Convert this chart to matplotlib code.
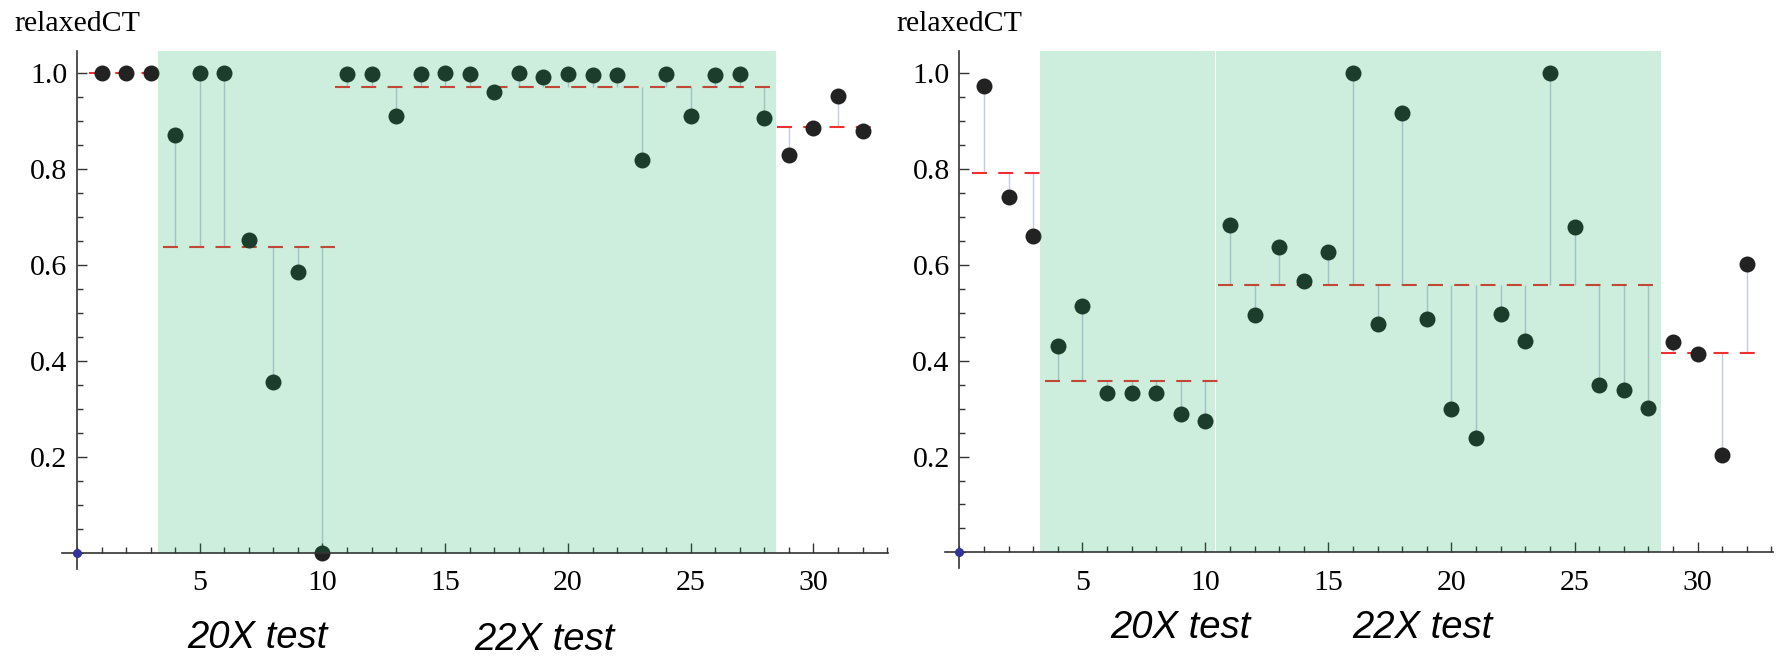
import numpy as np
import matplotlib
matplotlib.use('Agg')
import matplotlib.pyplot as plt
from matplotlib.patches import Rectangle
from matplotlib.ticker import MultipleLocator
from matplotlib.transforms import offset_copy

plt.rcParams['lines.scale_dashes'] = False
plt.rcParams['font.family'] = ['Liberation Serif', 'DejaVu Serif']

# run index 1..32
runs = list(range(1, 33))

# relaxedCT, left panel
left_ct = [1.000, 0.999, 1.000, 0.871, 1.000, 1.000, 0.653, 0.356, 0.586, 0.000,
           0.998, 0.998, 0.910, 0.998, 0.999, 0.998, 0.960, 1.000, 0.992, 0.997,
           0.996, 0.995, 0.819, 0.998, 0.910, 0.996, 0.998, 0.906,
           0.829, 0.886, 0.952, 0.879]

# relaxedCT, right panel
right_ct = [0.973, 0.740, 0.659, 0.430, 0.514, 0.332, 0.332, 0.332, 0.288, 0.275,
            0.683, 0.495, 0.636, 0.566, 0.626, 1.000, 0.477, 0.916, 0.487, 0.300,
            0.238, 0.496, 0.441, 1.000, 0.678, 0.350, 0.339, 0.302,
            0.439, 0.414, 0.204, 0.602]

# groups of runs (first, last) that share a mean line
groups = [(1, 3), (4, 10), (11, 28), (29, 32)]

# shaded test ranges on the x axis
left_shade = [(3.3, 28.47)]
right_shade = [(3.29, 10.37), (10.43, 28.51)]

x_ticks = [5, 10, 15, 20, 25, 30]
x_tick_labels = ['5', '10', '15', '20', '25', '30']
y_ticks = [0.2, 0.4, 0.6, 0.8, 1.0]
y_tick_labels = ['0.2', '0.4', '0.6', '0.8', '1.0']

YLO, YHI = -0.033, 1.045
W, H = 1777, 656
TICK_FS = 21.5

fig = plt.figure(figsize=(17.77, 6.56), dpi=100)
ax1 = fig.add_axes([62.3 / W, 87.2 / H, 826 / W, 517.4 / H])
ax2 = fig.add_axes([944.6 / W, 87.7 / H, 828 / W, 517.2 / H])


def draw_panel(ax, values, shade):
    values = np.array(values)
    x = np.array(runs)
    for first, last in groups:
        sel = (x >= first) & (x <= last)
        m = values[sel].mean()
        ax.vlines(x[sel], m, values[sel], color='#c5c9e6', lw=1.0, zorder=1)
        ax.plot([first - 0.5, last + 0.5], [m, m], color='#f03030', lw=1.5,
                dashes=(10.8, 8.1), zorder=2)
    ax.plot(x, values, 'o', color='#222222', ms=11.5, mew=0, zorder=3)
    for a, b in shade:
        ax.add_patch(Rectangle((a, 0), b - a, YHI, facecolor='#05aa50',
                               alpha=0.2, lw=0, zorder=4))
    ax.plot([0], [0], 'o', color='#333399', ms=6.5, mew=0, zorder=7, clip_on=False)

    ax.set_xlim(-0.6, 33.05)
    ax.set_ylim(YLO, YHI)
    for s in ['top', 'right']:
        ax.spines[s].set_visible(False)
    for s in ['left', 'bottom']:
        ax.spines[s].set_position(('data', 0))
        ax.spines[s].set_color('#333333')
        ax.spines[s].set_linewidth(1.2)
        ax.spines[s].set_zorder(6)
    ax.set_xticks(x_ticks)
    ax.set_yticks(y_ticks)
    ax.xaxis.set_minor_locator(MultipleLocator(1))
    ax.yaxis.set_minor_locator(MultipleLocator(0.05))
    ax.tick_params(which='both', direction='in', color='#333333', width=1.0,
                   labelbottom=False, labelleft=False)
    ax.tick_params(which='major', length=7)
    ax.tick_params(which='minor', length=4.5)

    # tick labels placed by hand so font and size are exactly controlled
    tx = offset_copy(ax.transData, fig=fig, x=0, y=-12.5, units='points')
    for t, lbl in zip(x_ticks, x_tick_labels):
        ax.text(t, 0, lbl, transform=tx, ha='center', va='top', fontsize=TICK_FS)
    ty = offset_copy(ax.transData, fig=fig, x=-7, y=0, units='points')
    for t, lbl in zip(y_ticks, y_tick_labels):
        ax.text(0, t, lbl, transform=ty, ha='right', va='center_baseline',
                fontsize=TICK_FS)
    ax.patch.set_alpha(0)


draw_panel(ax1, left_ct, left_shade)
draw_panel(ax2, right_ct, right_shade)

fig.text(14 / W, 1 - 31 / H, 'relaxedCT', fontsize=21.5, va='baseline', ha='left')
fig.text(896 / W, 1 - 31 / H, 'relaxedCT', fontsize=21.5, va='baseline', ha='left')

lab = dict(family=['Liberation Sans', 'DejaVu Sans'], style='italic', fontsize=27.5,
           ha='center', va='baseline')
fig.text(257.5 / W, 1 - 647.5 / H, '20X test', **lab)
fig.text(544.7 / W, 1 - 649.5 / H, '22X test', **lab)
fig.text(1180 / W, 1 - 638.3 / H, '20X test', **lab)
fig.text(1422 / W, 1 - 638.3 / H, '22X test', **lab)

fig.savefig('out.png', dpi=100)
